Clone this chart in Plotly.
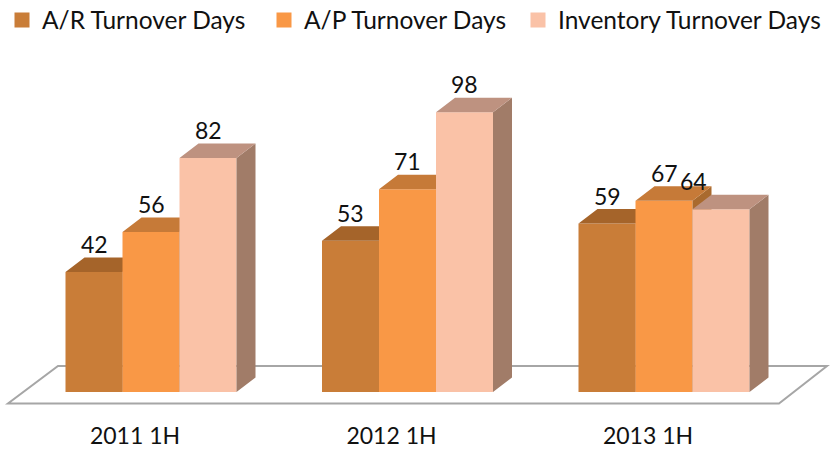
import plotly.graph_objects as go

categories = ["2011 1H", "2012 1H", "2013 1H"]
series_names = ["A/R Turnover Days", "A/P Turnover Days", "Inventory Turnover Days"]
ar_days = [42, 53, 59]
ap_days = [56, 71, 67]
inv_days = [82, 98, 64]
series_values = [ar_days, ap_days, inv_days]

front_colors = ["#C97D38", "#F99846", "#FAC2A7"]
top_colors = ["#A5642A", "#C67A38", "#BE9280"]
side_colors = ["#A5642A", "#A96A2E", "#A17C68"]

W, H = 830, 449
M_T, M_B = 0, 29
PLOT_BOTTOM = H - M_B
BASE_PX = 392
PX_PER_VALUE = 2.855
GROUP_PX = 256.5
FIRST_CAT_PX = 135
BAR_PX = 57
FIRST_BAR_LEFT_PX = 65.5
DEPTH_X_PX, DEPTH_Y_PX = 19, 14.5
FONT = "Lato"
TEXT = "#111111"


def px2x(p):
    return (p - FIRST_CAT_PX) / GROUP_PX


def py2y(p):
    return (BASE_PX - p) / PX_PER_VALUE


bar_w = BAR_PX / GROUP_PX
dx = DEPTH_X_PX / GROUP_PX
dy = DEPTH_Y_PX / PX_PER_VALUE
bar_start = (FIRST_BAR_LEFT_PX - FIRST_CAT_PX) / GROUP_PX
x_range = [px2x(0), px2x(W)]
y_range = [py2y(PLOT_BOTTOM), py2y(M_T)]

fig = go.Figure()
label_xshift = {(2, 2): -28}
annotations = []

for s, values in enumerate(series_values):
    suffix = "" if s == 0 else str(s + 1)
    xa, ya = "x" + suffix, "y" + suffix
    lefts = [i + bar_start + s * bar_w for i in range(len(values))]

    side_x, side_y, top_x, top_y = [], [], [], []
    for l, v in zip(lefts, values):
        r = l + bar_w
        side_x += [r, r + dx, r + dx, r, r, None]
        side_y += [0, dy, v + dy, v, 0, None]
        top_x += [l, r, r + dx, l + dx, l, None]
        top_y += [v, v, v + dy, v + dy, v, None]

    fig.add_trace(go.Scatter(x=side_x, y=side_y, mode="lines", line_width=0, fill="toself",
                             fillcolor=side_colors[s], hoverinfo="skip", showlegend=False,
                             xaxis=xa, yaxis=ya))
    fig.add_trace(go.Scatter(x=top_x, y=top_y, mode="lines", line_width=0, fill="toself",
                             fillcolor=top_colors[s], hoverinfo="skip", showlegend=False,
                             xaxis=xa, yaxis=ya))
    fig.add_trace(go.Bar(x=[l + bar_w / 2 for l in lefts], y=values, width=bar_w,
                         marker=dict(color=front_colors[s], line_width=0),
                         name=series_names[s], showlegend=False, xaxis=xa, yaxis=ya))
    # legend swatch
    fig.add_trace(go.Scatter(x=[None], y=[None], mode="markers", name=series_names[s],
                             marker=dict(symbol="square", size=15, color=front_colors[s]),
                             legend="legend" + suffix, xaxis=xa, yaxis=ya))

    for i, (l, v) in enumerate(zip(lefts, values)):
        annotations.append(dict(x=l + bar_w / 2, y=v, xref="x", yref="y", text=str(v),
                                showarrow=False, yshift=28,
                                xshift=label_xshift.get((s, i), 0),
                                font=dict(family=FONT, size=23, color=TEXT)))

floor_pts = [(8, 403.5), (779, 403.5), (827, 366), (58, 366)]
floor_path = "M " + " L ".join(f"{px2x(a)},{py2y(b)}" for a, b in floor_pts) + " Z"
shapes = [dict(type="path", path=floor_path, xref="x", yref="y", layer="below",
               fillcolor="white", line=dict(color="#A6A6A6", width=2))]

layout = dict(
    width=W, height=H, autosize=False,
    margin=dict(l=0, r=0, t=M_T, b=M_B, pad=0, autoexpand=False),
    paper_bgcolor="white", plot_bgcolor="white",
    barmode="overlay", shapes=shapes, annotations=annotations,
    font=dict(family=FONT, size=23, color=TEXT),
    xaxis=dict(range=x_range, tickmode="array", tickvals=list(range(3)), ticktext=categories,
               automargin=False, showgrid=False, zeroline=False, showline=False, ticks="",
               tickfont=dict(family=FONT, size=23, color=TEXT)),
    yaxis=dict(range=y_range, visible=False, automargin=False),
)
legend_px = [2, 264, 518]
for s in range(3):
    suffix = "" if s == 0 else str(s + 1)
    layout["legend" + suffix] = dict(x=legend_px[s] / W, xanchor="left",
                                     y=(PLOT_BOTTOM - 20) / (PLOT_BOTTOM - M_T), yanchor="middle",
                                     bgcolor="rgba(0,0,0,0)", borderwidth=0,
                                     font=dict(family=FONT, size=24.5, color=TEXT))
    if s:
        layout["xaxis" + suffix] = dict(range=x_range, overlaying="x", visible=False, automargin=False)
        layout["yaxis" + suffix] = dict(range=y_range, overlaying="y", visible=False, automargin=False)

fig.update_layout(**layout)
fig.write_html("out.html", config={"displayModeBar": False},
               post_script="document.body.style.margin='0';document.body.style.overflow='hidden';")
